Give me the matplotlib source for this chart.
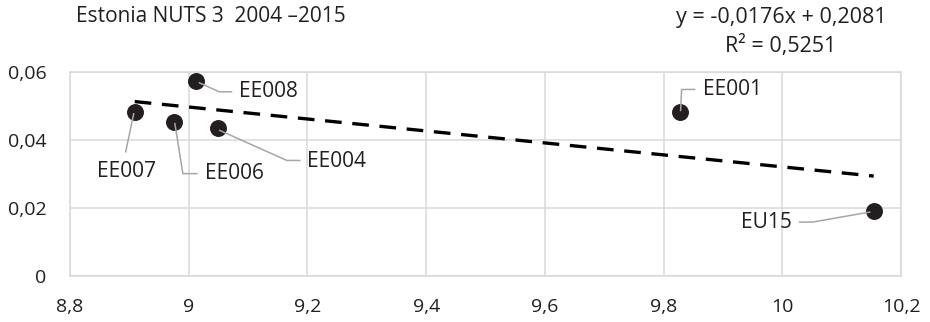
import numpy as np
import matplotlib
matplotlib.use('Agg')
import matplotlib.pyplot as plt

plt.rcParams['font.family'] = ['Open Sans', 'DejaVu Sans']

# data
regions = ['EE007', 'EE006', 'EE008', 'EE004', 'EE001', 'EU15']
xval = [8.909, 8.975, 9.013, 9.049, 9.827, 10.154]
yval = [0.0483, 0.0454, 0.0574, 0.0434, 0.0481, 0.0191]
slope, intercept, r2 = -0.0176, 0.2081, 0.5251
xticks = [8.8, 9.0, 9.2, 9.4, 9.6, 9.8, 10.0, 10.2]
yticks = [0, 0.02, 0.04, 0.06]

# leader lines / label placement, pixel offsets from the marker (y up)
leaders = {
    'EE007': ([(-1, -2), (-9, -40)], (-8, -60), 'center'),
    'EE006': ([(1, -2), (9, -52), (23, -52)], (31, -52), 'left'),
    'EE008': ([(3, -2), (23, -11), (35, -11)], (43, -11), 'left'),
    'EE004': ([(2, -2), (69, -32), (82, -32)], (89, -33), 'left'),
    'EE001': ([(1, 2), (2, 23), (15, 23)], (23, 23), 'left'),
    'EU15': ([(-4, -1), (-61, -11), (-74, -11)], (-82, -11), 'right'),
}

txt = '#231f20'
grid = '#d9d9d9'

fig = plt.figure(figsize=(9.3, 3.22), dpi=100)
ax = fig.add_axes([70/930, 1-276/322, 831/930, 204/322])

ax.set_xlim(8.8, 10.2)
ax.set_ylim(0, 0.06)
ax.set_xticks(xticks)
ax.set_yticks(yticks)
ax.set_xticklabels([('%g' % t).replace('.', ',') for t in xticks])
ax.set_yticklabels([('%g' % t).replace('.', ',') for t in yticks])
ax.tick_params(length=0, labelsize=14, colors=txt)
ax.tick_params(axis='x', pad=16)
ax.tick_params(axis='y', pad=17)
ax.grid(True, color=grid, lw=1.1)
ax.set_axisbelow(True)
for s in ax.spines.values():
    s.set_color(grid)
    s.set_linewidth(1.1)

# trend line
xt = np.array([min(xval), max(xval)])
ax.plot(xt, slope*xt + intercept, color='black', lw=2.4,
        linestyle=(0, (5, 3.2)), zorder=3)

ax.scatter(xval, yval, s=125, color=txt, zorder=4)

fig.canvas.draw()
for name, x, y in zip(regions, xval, yval):
    pts, toff, ha = leaders[name]
    px, py = ax.transData.transform((x, y))
    lx = [px + dx for dx, dy in pts]
    ly = [py + dy for dx, dy in pts]
    fig.add_artist(plt.Line2D(lx, ly, color='#a6a6a6', lw=1.1, transform=None))
    fig.text((px + toff[0])/930, (py + toff[1])/322, name, ha=ha, va='center',
             fontsize=15, color=txt)

fig.text(76/930, 1-16/322, 'Estonia NUTS 3  2004 \u20132015', ha='left', va='center',
         fontsize=15, color=txt)
fig.text(781/930, 1-18/322, 'y = %s' % ('%.4fx + %.4f' % (slope, intercept)).replace('.', ','),
         ha='center', va='center', fontsize=15.5, color=txt)
fig.text(781/930, 1-46/322, 'R\u00b2 = %s' % ('%.4f' % r2).replace('.', ','),
         ha='center', va='center', fontsize=15.5, color=txt)

fig.savefig('out.png', dpi=100)
